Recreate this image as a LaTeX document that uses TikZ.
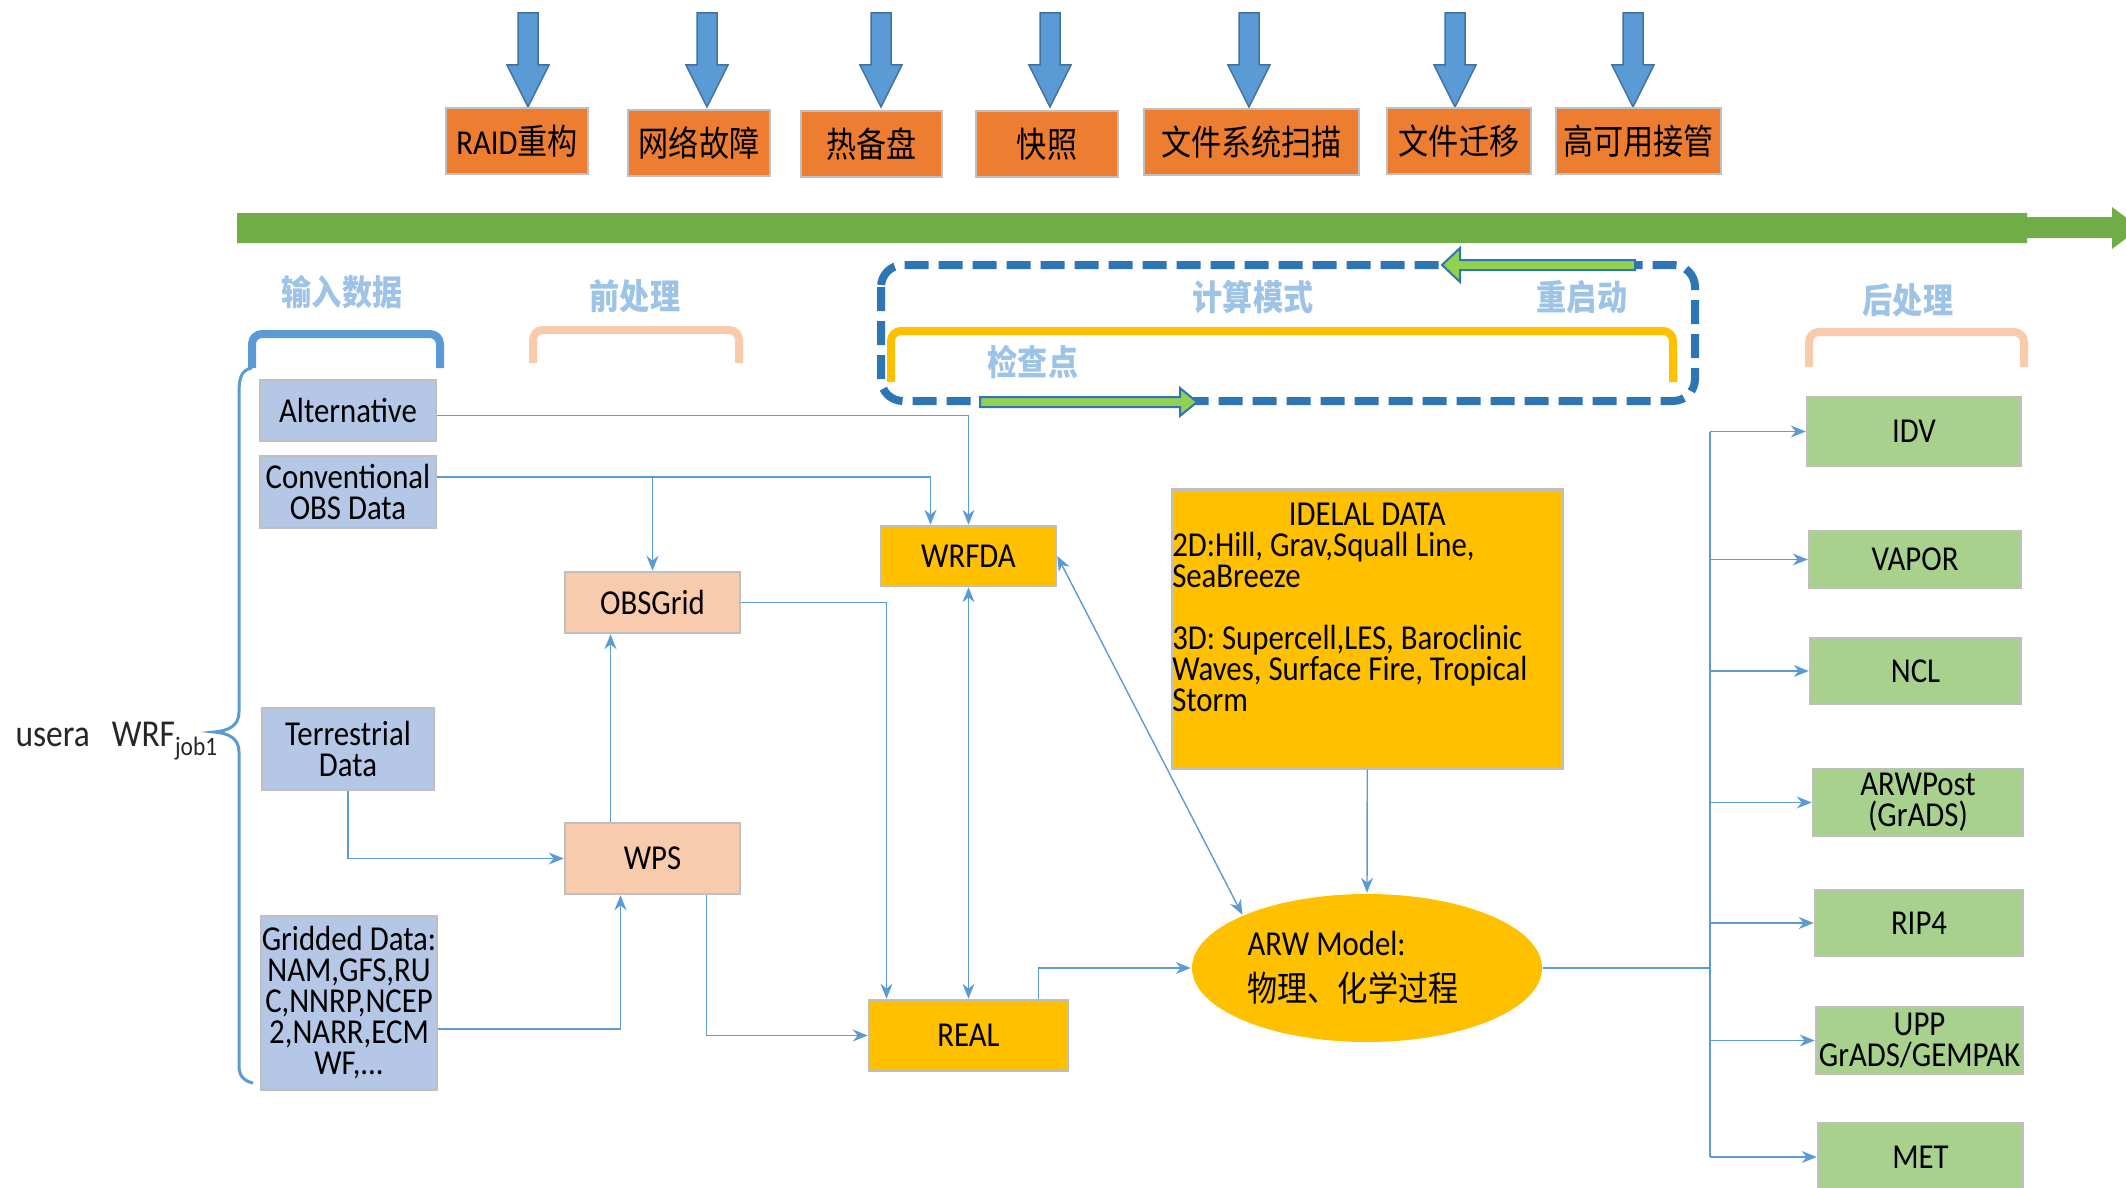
\documentclass[tikz,border=0pt]{standalone}
\usepackage{fontspec}
\setmainfont{Carlito}[FakeStretch=0.88]
\newfontfamily\cjk{Noto Sans CJK SC}[FakeStretch=0.86]
\usetikzlibrary{arrows.meta, shapes.geometric}

\definecolor{inblue}{HTML}{B4C7E7}
\definecolor{peach}{HTML}{F8CBAD}
\definecolor{gold}{HTML}{FFC000}
\definecolor{postgreen}{HTML}{A9D18E}
\definecolor{taskorange}{HTML}{ED7D31}
\definecolor{boxgray}{HTML}{BFBFBF}
\definecolor{bargreen}{HTML}{70AD47}
\definecolor{brightgreen}{HTML}{92D050}
\definecolor{frameblue}{HTML}{2E75B6}
\definecolor{arrowblue}{HTML}{5B9BD5}
\definecolor{arrowedge}{HTML}{41719C}
\definecolor{linkblue}{HTML}{5B9BD5}
\definecolor{stageblue}{HTML}{9DC3E6}

\newcommand{\zh}[1]{{\cjk #1}}

\begin{document}
\begin{tikzpicture}[x=1pt, y=-1pt,
    txt/.style={font=\fontsize{35}{31}\selectfont},
    box/.style={txt, draw=boxgray, line width=2.5pt, inner sep=0pt, align=center},
    inbox/.style={box, fill=inblue},
    prebox/.style={box, fill=peach},
    runbox/.style={box, fill=gold},
    postbox/.style={box, fill=postgreen},
    taskbox/.style={box, fill=taskorange},
    conn/.style={draw=linkblue, line width=1.4pt, -{Stealth[length=15pt, width=12pt]}},
    twoway/.style={conn, {Stealth[length=15pt, width=12pt]}-{Stealth[length=15pt, width=12pt]}},
    stage/.style={font=\fontsize{35}{31}\selectfont\cjk\bfseries, text=stageblue},
    bracket/.style={line width=8pt, rounded corners=10pt},
    blockarrow/.style={fill=arrowblue, draw=arrowedge, line width=1.5pt},
    looparrow/.style={fill=brightgreen, draw=frameblue, line width=2pt},
  ]
  \useasboundingbox (0,0) rectangle (2126,1188);
  \clip (0,0) rectangle (2126,1188);

  % Events from the storage side
  \foreach \x in {528,707,881,1050,1249,1455,1633} {
    \filldraw[blockarrow] (\x-10,13) -- (\x+10,13) -- (\x+10,65) -- (\x+21,65)
      -- (\x,107) -- (\x-21,65) -- (\x-10,65) -- cycle;
  }
  \node[taskbox, minimum width=142pt, minimum height=66pt] (raid) at (517,141) {RAID\zh{重构}};
  \node[taskbox, minimum width=142pt, minimum height=66pt] (netfail) at (699,143) {\zh{网络故障}};
  \node[taskbox, minimum width=141pt, minimum height=66pt] (spare) at (871.5,144) {\zh{热备盘}};
  \node[taskbox, minimum width=142pt, minimum height=66pt] (snap) at (1047,144) {\zh{快照}};
  \node[taskbox, minimum width=215pt, minimum height=66pt] (fsscan) at (1251.5,142) {\zh{文件系统扫描}};
  \node[taskbox, minimum width=144pt, minimum height=66pt] (migrate) at (1459,141) {\zh{文件迁移}};
  \node[taskbox, minimum width=165pt, minimum height=66pt] (failover) at (1638.5,141) {\zh{高可用接管}};

  % Time line
  \fill[bargreen] (237,213) -- (2027,213) -- (2027,217) -- (2112,217) -- (2112,207)
    -- (2140,228) -- (2112,249) -- (2112,238) -- (2027,238) -- (2027,243) -- (237,243) -- cycle;

  % Stages
  \node[stage] (inlabel) at (342,292) {输入数据};
  \node[stage] (prelabel) at (635,296) {前处理};
  \node[stage] (runlabel) at (1253,297) {计算模式};
  \node[stage] (restartlabel) at (1582,297) {重启动};
  \node[stage] (cplabel) at (1033,362) {检查点};
  \node[stage] (postlabel) at (1908,300) {后处理};

  \draw[bracket, arrowblue] (252,368) -- (252,334) -- (440,334) -- (440,368);
  \draw[bracket, peach] (533,363) -- (533,330) -- (739,330) -- (739,363);
  \draw[bracket, peach] (1809,367) -- (1809,332) -- (2024,332) -- (2024,367);
  \draw[bracket, gold] (891,382) -- (891,331) -- (1673,331) -- (1673,382);

  % Restart / checkpoint loop
  \draw[frameblue, line width=8pt, dash pattern=on 24pt off 10pt, rounded corners=22pt]
    (881,265) rectangle (1695,401);
  \filldraw[looparrow] (1635,260) -- (1460,260) -- (1460,248) -- (1442,265)
    -- (1460,282) -- (1460,270) -- (1635,270) -- cycle;
  \filldraw[looparrow] (980,397) -- (1180,397) -- (1180,388) -- (1197,402)
    -- (1180,416) -- (1180,407) -- (980,407) -- cycle;

  % Job
  \draw[arrowblue, line width=3pt] (252,368) .. controls (240,370) and (239,380) .. (239,395)
    -- (239,712) .. controls (239,726) and (228,731) .. (214,732)
    .. controls (228,733) and (239,738) .. (239,752)
    -- (239,1066) .. controls (239,1076) and (244,1081) .. (253,1083);
  \node[font=\fontsize{38}{40}\selectfont, text=black!85, anchor=base west] (job) at (12,746)
    {usera\hspace{22pt}WRF\textsubscript{job1}};

  % Input data
  \node[inbox, minimum width=176pt, minimum height=61pt] (alt) at (348,410.5) {Alternative};
  \node[inbox, minimum width=176pt, minimum height=72pt] (conv) at (348,492) {Conventional\\OBS Data};
  \node[inbox, minimum width=172pt, minimum height=82pt] (terr) at (348,749) {Terrestrial\\Data};
  \node[inbox, minimum width=176pt, minimum height=174pt] (grid) at (349,1003)
    {Gridded Data:\\NAM,GFS,RU\\C,NNRP,NCEP\\2,NARR,ECM\\WF,...};

  % Preprocessing
  \node[prebox, minimum width=175pt, minimum height=61pt] (obsgrid) at (652.5,602.5) {OBSGrid};
  \node[prebox, minimum width=175pt, minimum height=71pt] (wps) at (652.5,858.5) {WPS};

  % Model
  \node[runbox, minimum width=175pt, minimum height=60pt] (wrfda) at (968.5,556) {WRFDA};
  \node[runbox, minimum width=199pt, minimum height=71pt] (real) at (968.5,1035.5) {REAL};
  \node[runbox, anchor=north west] (ideal) at (1171,488) {\parbox[c][279pt][t]{390pt}{\raggedright
    \vspace*{14pt}\makebox[\linewidth]{IDELAL DATA}\\
    2D:Hill, Grav,Squall Line,\\
    SeaBreeze\\[31pt]
    3D: Supercell,LES, Baroclinic\\
    Waves, Surface Fire, Tropical\\
    Storm}};
  \node[runbox, ellipse, draw=none, align=left, minimum width=350pt, minimum height=148pt] (arw)
    at (1367,968) {ARW Model:\\[15pt]\zh{物理、化学过程}\hspace*{28pt}};

  % Postprocessing
  \node[postbox, minimum width=214pt, minimum height=69pt] (idv) at (1914,431.5) {IDV};
  \node[postbox, minimum width=212pt, minimum height=57pt] (vapor) at (1915,559.5) {VAPOR};
  \node[postbox, minimum width=211pt, minimum height=66pt] (ncl) at (1915.5,671) {NCL};
  \node[postbox, minimum width=210pt, minimum height=67pt] (arwpost) at (1918,802.5) {ARWPost\\(GrADS)};
  \node[postbox, minimum width=208pt, minimum height=66pt] (rip) at (1919,923) {RIP4};
  \node[postbox, minimum width=207pt, minimum height=67pt] (upp) at (1919.5,1040.5) {UPP\\GrADS/GEMPAK};
  \node[postbox, minimum width=205pt, minimum height=68pt] (met) at (1920.5,1157) {MET};

  % Data flow
  \coordinate (altout) at ([yshift=-5pt]alt.east);
  \coordinate (convout) at ([yshift=15pt]conv.east);
  \draw[conn] (altout) -| (wrfda.north);
  \draw[conn] (convout) -| ([xshift=-38pt]wrfda.north);
  \draw[conn] (convout -| obsgrid.north) -- (obsgrid.north);
  \draw[conn] (obsgrid.east) -| ([xshift=-82pt]real.north);
  \draw[conn] ([xshift=-42pt]wps.north) -- ([xshift=-42pt]obsgrid.south);
  \draw[conn] (terr.south) |- (wps.west);
  \draw[conn] ([yshift=-26pt]grid.east) -| ([xshift=-32pt]wps.south);
  \draw[conn] ([xshift=54pt]wps.south) |- (real.west);
  \draw[twoway] (wrfda.south) -- (real.north);
  \draw[twoway] (wrfda.east) -- (arw.north west);
  \draw[conn] ([xshift=70pt]real.north) |- (arw.west);
  \draw[conn] (ideal.south) -- (arw.north);

  % Output bus
  \coordinate (bus) at (1710,0);
  \draw[linkblue, line width=1.4pt] (idv.west -| bus) -- (met.west -| bus);
  \draw[linkblue, line width=1.4pt] (arw.east) -- (arw.east -| bus);
  \foreach \p in {idv,vapor,ncl,arwpost,rip,upp,met}
    \draw[conn] (\p.west -| bus) -- (\p.west);
\end{tikzpicture}
\end{document}
